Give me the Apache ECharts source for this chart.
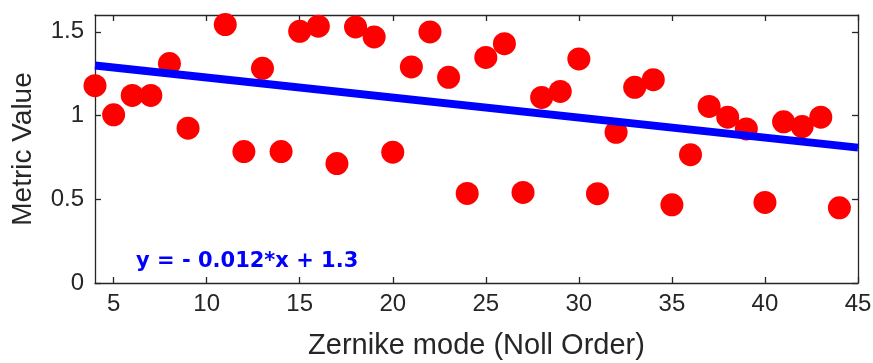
<!DOCTYPE html>
<html>
<head>
<meta charset="utf-8">
<script src="https://cdn.jsdelivr.net/npm/echarts@6/dist/echarts.min.js"></script>
<style>
  html, body { margin: 0; padding: 0; background: #fff; }
  #chart { width: 873px; height: 363px; }
</style>
</head>
<body>
<div id="chart"></div>
<script>
// Zernike modes (Noll index) and the metric measured for each
const modes = [4, 5, 6, 7, 8, 9, 11, 12, 13, 14, 15, 16, 17, 18, 19, 20, 21, 22, 23, 24,
               25, 26, 27, 28, 29, 30, 31, 32, 33, 34, 35, 36, 37, 38, 39, 40, 41, 42, 43, 44];
const metric = [1.178, 1.004, 1.120, 1.120, 1.310, 0.924, 1.543, 0.785, 1.282, 0.785,
                1.503, 1.533, 0.713, 1.529, 1.469, 0.781, 1.290, 1.499, 1.228, 0.535,
                1.347, 1.429, 0.541, 1.108, 1.144, 1.338, 0.533, 0.900, 1.168, 1.214,
                0.467, 0.766, 1.054, 0.990, 0.920, 0.481, 0.962, 0.934, 0.990, 0.449];

// Linear trend coefficients
const fitSlope = -0.01195;
const fitIntercept = 1.346;
const fitRange = [4, 45];

// Axis ticks
const xTicks = [5, 10, 15, 20, 25, 30, 35, 40, 45];
const yTicks = [0, 0.5, 1, 1.5];
const xRange = [4, 45];
const yRange = [0, 1.6];

const points = modes.map((m, i) => [m, metric[i]]);
const fitLine = fitRange.map(x => [x, fitSlope * x + fitIntercept]);
const sign = fitSlope < 0 ? '- ' : '';
const eqText = 'y = ' + sign + Math.abs(fitSlope).toFixed(3) + '*x + ' + fitIntercept.toFixed(1);

const ink = '#262626';
const font = '"Liberation Sans", Arial, Helvetica, sans-serif';
const eqFont = '"DejaVu Sans", "Liberation Sans", sans-serif';

function frameAxis(extra) {
  return Object.assign({
    type: 'value',
    axisLine: { show: true, onZero: false, lineStyle: { color: ink, width: 1.3 } },
    axisTick: { show: true, inside: true, length: 6, lineStyle: { color: ink, width: 1.3 } },
    splitLine: { show: false },
    axisLabel: { show: false }
  }, extra);
}

const chart = echarts.init(document.getElementById('chart'), null, { renderer: 'canvas' });
chart.setOption({
  animation: false,
  backgroundColor: '#ffffff',
  grid: { left: 95, right: 15, top: 15, bottom: 80, containLabel: false, outerBoundsMode: 'none' },
  xAxis: [
    frameAxis({
      position: 'bottom', min: xRange[0], max: xRange[1],
      axisTick: { show: true, inside: true, length: 6, customValues: xTicks, lineStyle: { color: ink, width: 1.3 } },
      axisLabel: { show: true, customValues: xTicks, margin: 9, color: ink, fontSize: 24, fontFamily: font },
      name: 'Zernike mode (Noll Order)', nameLocation: 'middle', nameGap: 48,
      nameTextStyle: { color: ink, fontSize: 29, fontFamily: font }
    }),
    frameAxis({
      position: 'top', min: xRange[0], max: xRange[1],
      axisTick: { show: true, inside: true, length: 6, customValues: xTicks, lineStyle: { color: ink, width: 1.3 } }
    })
  ],
  yAxis: [
    frameAxis({
      position: 'left', min: yRange[0], max: yRange[1],
      axisTick: { show: true, inside: true, length: 6, customValues: yTicks, lineStyle: { color: ink, width: 1.3 } },
      axisLabel: { show: true, customValues: yTicks, margin: 11, color: ink, fontSize: 24, fontFamily: font },
      name: 'Metric Value', nameLocation: 'middle', nameGap: 58, nameRotate: 90,
      nameTextStyle: { color: ink, fontSize: 28, fontFamily: font }
    }),
    frameAxis({
      position: 'right', min: yRange[0], max: yRange[1],
      axisTick: { show: true, inside: true, length: 6, customValues: yTicks, lineStyle: { color: ink, width: 1.3 } }
    })
  ],
  series: [
    {
      type: 'scatter',
      xAxisIndex: 0, yAxisIndex: 0,
      data: points,
      symbol: 'circle',
      symbolSize: 23,
      itemStyle: { color: '#ff0000', opacity: 1 },
      z: 2
    },
    {
      type: 'line',
      xAxisIndex: 0, yAxisIndex: 0,
      data: fitLine,
      showSymbol: false,
      clip: false,
      lineStyle: { color: '#0000ff', width: 8, cap: 'butt' },
      z: 3
    }
  ],
  graphic: [
    {
      type: 'text',
      left: 136,
      top: 251,
      style: {
        text: eqText,
        fill: '#0000ff',
        fontSize: 21,
        fontWeight: 'bold',
        fontFamily: eqFont
      },
      z: 10
    }
  ]
});
</script>
</body>
</html>
